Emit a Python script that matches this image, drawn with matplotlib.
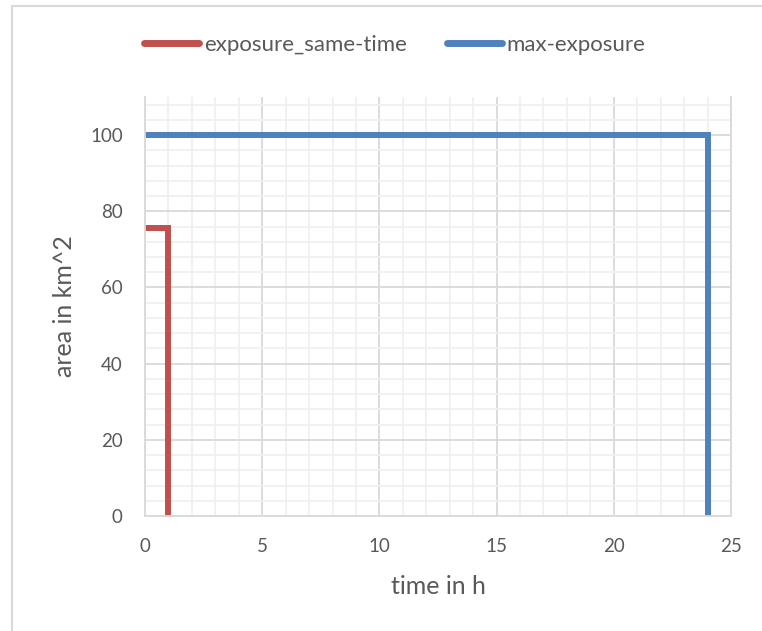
import matplotlib
matplotlib.use("Agg")
import matplotlib.pyplot as plt
from matplotlib.patches import Rectangle
from matplotlib.ticker import MultipleLocator

plt.rcParams['font.family'] = ['Lato', 'DejaVu Sans']

# data (step lines)
same_time_x = [0, 1, 1]
same_time_y = [75.5, 75.5, 0]
max_exp_x = [0, 24, 24]
max_exp_y = [100, 100, 0]
series_names = ["exposure_same-time", "max-exposure"]
x_label = "time in h"
y_label = "area in km^2"

W, H = 762, 631
fig = plt.figure(figsize=(W / 100, H / 100), dpi=100)
fig.patch.set_facecolor('white')

# outer chart border
fig.patches.append(Rectangle((12 / W, -0.1), 1.2, 1 - 6 / H + 0.1, transform=fig.transFigure,
                             fill=False, edgecolor='#d9d9d9', linewidth=1.5, zorder=0))

ax = fig.add_axes([145 / W, (H - 516) / H, (731 - 145) / W, (516 - 97) / H])
ax.set_xlim(0, 25)
ax.set_ylim(0, 110)
ax.xaxis.set_major_locator(MultipleLocator(5))
ax.xaxis.set_minor_locator(MultipleLocator(1))
ax.yaxis.set_major_locator(MultipleLocator(20))
ax.yaxis.set_minor_locator(MultipleLocator(4))
ax.grid(which='minor', color='#f0f0f0', linewidth=1.3)
ax.grid(which='major', color='#d9d9d9', linewidth=1.3)
ax.set_axisbelow(True)
ax.spines['top'].set_visible(False)
for s in ['left', 'bottom', 'right']:
    ax.spines[s].set_color('#d9d9d9')
    ax.spines[s].set_linewidth(1.3)
ax.tick_params(which='both', length=0, labelsize=13.5, labelcolor='#595959')
ax.tick_params(axis='y', pad=16)
ax.tick_params(axis='x', pad=16)

ax.plot(same_time_x, same_time_y, color='#c0504d', linewidth=4.3, solid_joinstyle='miter',
        solid_capstyle='butt', label=series_names[0], clip_on=False)
ax.plot(max_exp_x, max_exp_y, color='#4f81bd', linewidth=4.3, solid_joinstyle='miter',
        solid_capstyle='butt', label=series_names[1], clip_on=False)

ax.set_xlabel(x_label, fontsize=18, color='#595959')
ax.set_ylabel(y_label, fontsize=18, color='#595959')
ax.xaxis.set_label_coords(0.5, -0.14)
ax.yaxis.set_label_coords(-0.118, 0.5)

leg = fig.legend(loc='center', bbox_to_anchor=(0.518, 1 - 45 / H), ncol=2, frameon=False,
                 fontsize=16, handlelength=2.5, handletextpad=0.2, columnspacing=1.8,
                 labelcolor='#595959')
for line in leg.get_lines():
    line.set_solid_capstyle('round')
    line.set_linewidth(5)

fig.savefig('out.png', dpi=100, facecolor='white')
